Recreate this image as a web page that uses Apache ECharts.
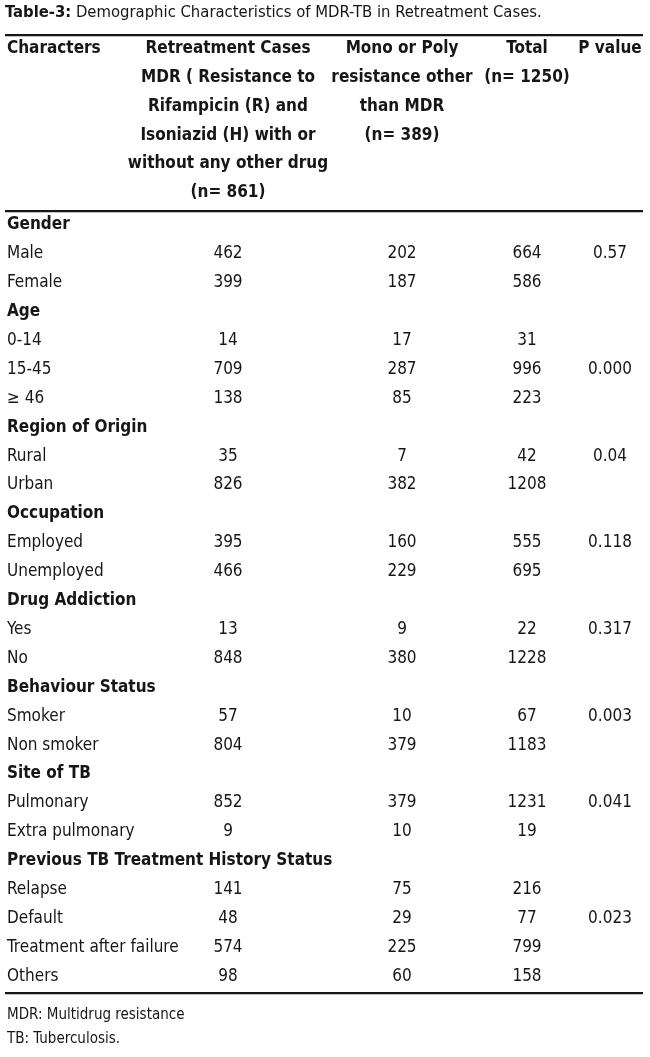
<!DOCTYPE html>
<html>
<head>
<meta charset="utf-8">
<script src="https://cdn.jsdelivr.net/npm/echarts@6/dist/echarts.min.js"></script>
<style>
  html, body { margin: 0; padding: 0; background: #fff; }
  #main { width: 650px; height: 1057px; }
</style>
</head>
<body>
<div id="main"></div>
<script>
// table text and values
var titleBold = "Table-3:";
var titleText = " Demographic Characteristics of MDR-TB in Retreatment Cases.";

var headChars = ["Characters"];
var headMdr = ["Retreatment Cases", "MDR ( Resistance to", "Rifampicin (R) and",
  "Isoniazid (H) with or", "without any other drug", "(n= 861)"];
var headMono = ["Mono or Poly", "resistance other", "than MDR", "(n= 389)"];
var headTotal = ["Total", "(n= 1250)"];
var headP = ["P value"];

var rowLabels = ["Gender", "Male", "Female", "Age", "0-14", "15-45", "\u2265 46",
  "Region of Origin", "Rural", "Urban", "Occupation", "Employed", "Unemployed",
  "Drug Addiction", "Yes", "No", "Behaviour Status", "Smoker", "Non smoker",
  "Site of TB", "Pulmonary", "Extra pulmonary", "Previous TB Treatment History Status",
  "Relapse", "Default", "Treatment after failure", "Others"];

var groupRows = ["Gender", "Age", "Region of Origin", "Occupation", "Drug Addiction",
  "Behaviour Status", "Site of TB", "Previous TB Treatment History Status"];

var mdrValues = [null, 462, 399, null, 14, 709, 138, null, 35, 826, null, 395, 466,
  null, 13, 848, null, 57, 804, null, 852, 9, null, 141, 48, 574, 98];
var monoValues = [null, 202, 187, null, 17, 287, 85, null, 7, 382, null, 160, 229,
  null, 9, 380, null, 10, 379, null, 379, 10, null, 75, 29, 225, 60];
var totalValues = [null, 664, 586, null, 31, 996, 223, null, 42, 1208, null, 555, 695,
  null, 22, 1228, null, 67, 1183, null, 1231, 19, null, 216, 77, 799, 158];
var pValues = [null, "0.57", null, null, null, "0.000", null, null, "0.04", null, null,
  "0.118", null, null, "0.317", null, null, "0.003", null, null, "0.041", null, null,
  null, "0.023", null, null];

var footNotes = ["MDR: Multidrug resistance", "TB: Tuberculosis."];

// layout
var FONT = "'Liberation Sans Narrow', 'DejaVu Sans Condensed', sans-serif";
var INK = "#161616";
var colX = [7, 228, 402, 527, 610];   // label left edge, then column centres
var ROW_H = 28.9;

var chart = echarts.init(document.getElementById('main'));

function colSeries(name, values, x){
  var pts = [];
  for(var i = 0; i < values.length; i++){
    if(values[i] != null) pts.push([x, i, values[i]]);
  }
  return {
    name: name,
    type: 'scatter',
    symbolSize: 0,
    silent: true,
    data: pts,
    itemStyle: { opacity: 1 },
    label: {
      show: true,
      position: 'inside',
      formatter: function(p){ return p.data[2]; },
      fontFamily: FONT,
      fontSize: 17,
      color: INK,
      opacity: 1
    }
  };
}

function headText(lines, x, align){
  return {
    type: 'text',
    x: x,
    y: 34,
    style: {
      text: lines.join('\n'),
      fontFamily: FONT,
      fontSize: 17,
      fontWeight: 'bold',
      lineHeight: ROW_H,
      fill: INK,
      align: align,
      verticalAlign: 'top'
    }
  };
}

function rule(y){
  return { type: 'rect', shape: { x: 5, y: y, width: 638, height: 2.2 }, style: { fill: INK } };
}

var options = {
  backgroundColor: '#fff',
  animation: false,
  grid: { left: 0, right: 0, top: 210.5, height: ROW_H * rowLabels.length, containLabel: false },
  xAxis: { type: 'value', min: 0, max: 650, show: false },
  yAxis: {
    type: 'category',
    data: rowLabels,
    inverse: true,
    axisLine: { show: false },
    axisTick: { show: false },
    splitLine: { show: false },
    axisLabel: {
      interval: 0,
      align: 'left',
      margin: -colX[0],
      formatter: function(v){
        return groupRows.indexOf(v) >= 0 ? '{g|' + v + '}' : '{n|' + v + '}';
      },
      rich: {
        g: { fontFamily: FONT, fontSize: 17, fontWeight: 'bold', color: INK },
        n: { fontFamily: FONT, fontSize: 17, color: INK }
      }
    }
  },
  series: [
    colSeries('MDR', mdrValues, colX[1]),
    colSeries('Mono/Poly', monoValues, colX[2]),
    colSeries('Total', totalValues, colX[3]),
    colSeries('P value', pValues, colX[4])
  ],
  graphic: [
    {
      type: 'text', x: 5, y: 13,
      style: {
        rich: {
          b: { fontFamily: FONT, fontSize: 16.5, fontWeight: 'bold', fill: INK },
          r: { fontFamily: FONT, fontSize: 16.5, fill: INK }
        },
        text: '{b|' + titleBold + '}{r|' + titleText + '}',
        verticalAlign: 'middle'
      }
    },
    rule(34),
    headText(headChars, colX[0], 'left'),
    headText(headMdr, colX[1], 'center'),
    headText(headMono, colX[2], 'center'),
    headText(headTotal, colX[3], 'center'),
    headText(headP, colX[4], 'center'),
    rule(210),
    rule(992),
    {
      type: 'text', x: 7, y: 1003,
      style: {
        text: footNotes.join('\n'),
        fontFamily: FONT,
        fontSize: 15,
        lineHeight: 24,
        fill: INK,
        verticalAlign: 'top'
      }
    }
  ]
};

chart.setOption(options);
</script>
</body>
</html>
